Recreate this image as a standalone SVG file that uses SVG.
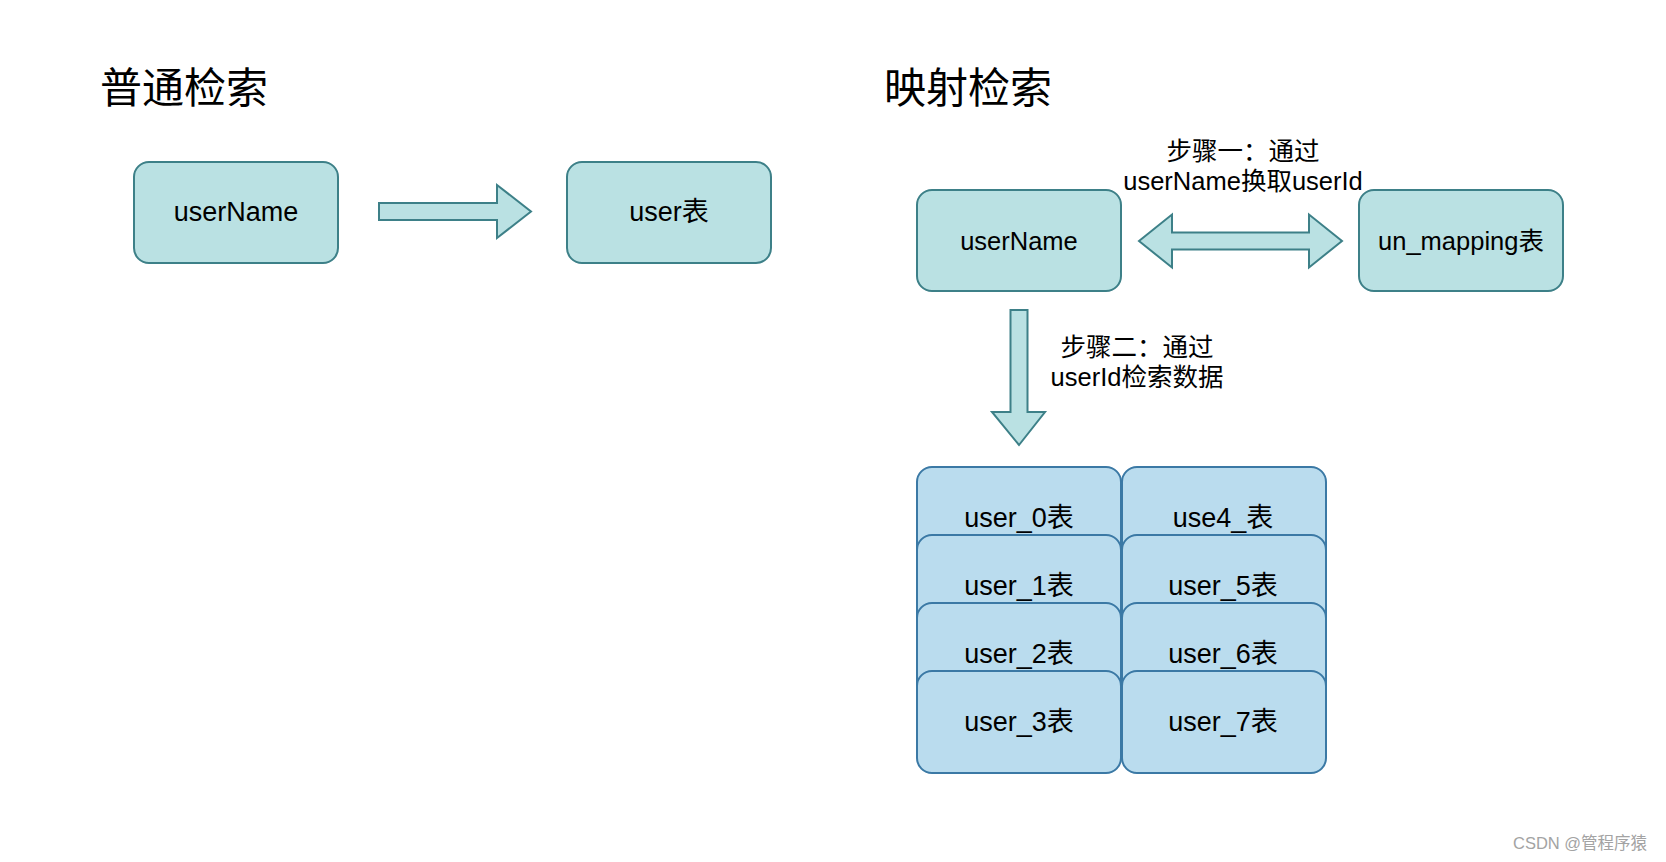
<svg xmlns="http://www.w3.org/2000/svg" width="1666" height="862" viewBox="0 0 1666 862">
<style>
text{font-family:"Liberation Sans","Noto Sans CJK SC",sans-serif;fill:#000}
.title{font-size:42px}
.lbl{font-size:25.5px;text-anchor:middle}
.big{font-size:27px;text-anchor:middle}
.teal{fill:#bae1e3;stroke:#3d8088;stroke-width:2}
.blue{fill:#badcee;stroke:#3b79a5;stroke-width:2}
.arrow{fill:#bae1e3;stroke:#3d8088;stroke-width:2;stroke-linejoin:miter}
.wm{font-size:16.5px;fill:#a3a3a3}
</style>
<rect width="1666" height="862" fill="#fff"/>
<text class="title" x="100" y="103">普通检索</text>
<text class="title" x="884" y="103">映射检索</text>

<g id="connectors">
<polygon class="arrow" points="379,203 497,203 497,185 531,211.5 497,238 497,220 379,220"/>
<polygon class="arrow" points="1139,241 1172,214.5 1172,232.5 1309,232.5 1309,214.5 1342,241 1309,267.5 1309,249.5 1172,249.5 1172,267.5"/>
<polygon class="arrow" points="1010.5,310 1027.5,310 1027.5,412 1045,412 1019,445 992,412 1010.5,412"/>
</g>

<g id="step1-label">
<text class="lbl" x="1243" y="160">步骤一：通过</text>
<text class="lbl" x="1243" y="190">userName换取userId</text>
</g>
<g id="step2-label">
<text class="lbl" x="1137" y="356">步骤二：通过</text>
<text class="lbl" x="1137" y="386">userId检索数据</text>
</g>

<g id="n-username-left">
<rect class="teal" x="134" y="162" width="204" height="101" rx="15"/>
<text class="big" x="236" y="221">userName</text>
</g>
<g id="n-user-table">
<rect class="teal" x="567" y="162" width="204" height="101" rx="15"/>
<text class="big" x="669" y="221">user表</text>
</g>
<g id="n-username-right">
<rect class="teal" x="917" y="190" width="204" height="101" rx="15"/>
<text class="lbl" x="1019" y="250">userName</text>
</g>
<g id="n-un-mapping">
<rect class="teal" x="1359" y="190" width="204" height="101" rx="15"/>
<text class="lbl" x="1461" y="250">un_mapping表</text>
</g>

<g id="n-user0">
<rect class="blue" x="917" y="467" width="204" height="102" rx="15"/>
<text class="big" x="1019" y="527">user_0表</text>
</g>
<g id="n-user4">
<rect class="blue" x="1122" y="467" width="204" height="102" rx="15"/>
<text class="big" x="1223" y="527">use4_表</text>
</g>
<g id="n-user1">
<rect class="blue" x="917" y="535" width="204" height="102" rx="15"/>
<text class="big" x="1019" y="595">user_1表</text>
</g>
<g id="n-user5">
<rect class="blue" x="1122" y="535" width="204" height="102" rx="15"/>
<text class="big" x="1223" y="595">user_5表</text>
</g>
<g id="n-user2">
<rect class="blue" x="917" y="603" width="204" height="102" rx="15"/>
<text class="big" x="1019" y="663">user_2表</text>
</g>
<g id="n-user6">
<rect class="blue" x="1122" y="603" width="204" height="102" rx="15"/>
<text class="big" x="1223" y="663">user_6表</text>
</g>
<g id="n-user3">
<rect class="blue" x="917" y="671" width="204" height="102" rx="15"/>
<text class="big" x="1019" y="731">user_3表</text>
</g>
<g id="n-user7">
<rect class="blue" x="1122" y="671" width="204" height="102" rx="15"/>
<text class="big" x="1223" y="731">user_7表</text>
</g>

<text class="wm" x="1513" y="849">CSDN @管程序猿</text>
</svg>
